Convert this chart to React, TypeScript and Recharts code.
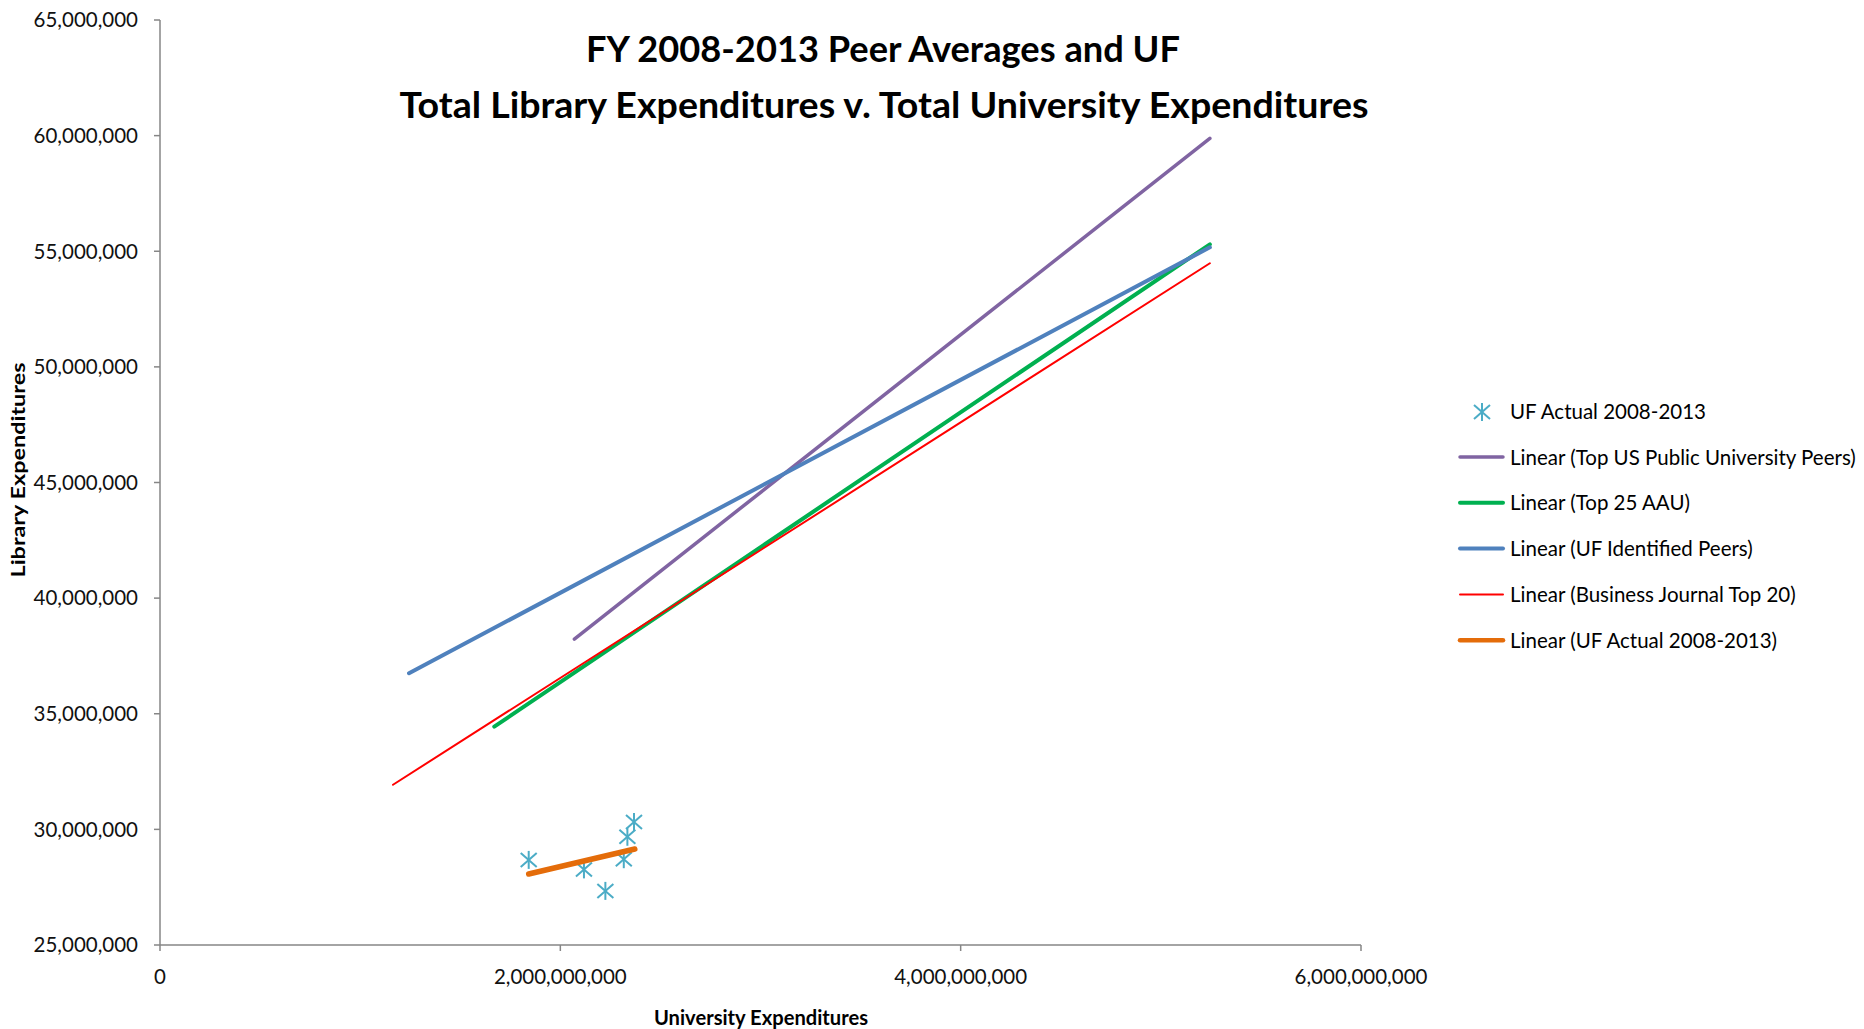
import { ScatterChart, Scatter, XAxis, YAxis } from "recharts";

// UF actual points, FY 2008-2013
const UF_UNIV = [1.842e9, 2.118e9, 2.225e9, 2.317e9, 2.335e9, 2.368e9];
const UF_LIB = [28.68e6, 28.27e6, 27.34e6, 28.71e6, 29.68e6, 30.32e6];

// trendline endpoints
const TOP_US_X = [2.07e9, 5.245e9];
const TOP_US_Y = [38.23e6, 59.88e6];
const AAU_X = [1.67e9, 5.245e9];
const AAU_Y = [34.44e6, 55.3e6];
const PEERS_X = [1.244e9, 5.245e9];
const PEERS_Y = [36.75e6, 55.17e6];
const BJ_X = [1.164e9, 5.245e9];
const BJ_Y = [31.93e6, 54.48e6];
const UF_TREND_X = [1.842e9, 2.372e9];
const UF_TREND_Y = [28.07e6, 29.15e6];

const X_TICKS = [0, 2e9, 4e9, 6e9];
const Y_TICKS = [25e6, 30e6, 35e6, 40e6, 45e6, 50e6, 55e6, 60e6, 65e6];

const toPts = (xs: number[], ys: number[]) => xs.map((x, i) => ({ x, y: ys[i] }));

const TRENDS = [
  { name: "Linear (Top US Public University Peers)", data: toPts(TOP_US_X, TOP_US_Y), color: "#8064A2", width: 3.5 },
  { name: "Linear (Top 25 AAU)", data: toPts(AAU_X, AAU_Y), color: "#00B050", width: 4 },
  { name: "Linear (UF Identified Peers)", data: toPts(PEERS_X, PEERS_Y), color: "#4F81BD", width: 4 },
  { name: "Linear (Business Journal Top 20)", data: toPts(BJ_X, BJ_Y), color: "#FF0000", width: 2 },
  { name: "Linear (UF Actual 2008-2013)", data: toPts(UF_TREND_X, UF_TREND_Y), color: "#E46C0A", width: 5.5 },
];

const STAR = "#4BACC6";
const FONT = "Lato, 'Open Sans', sans-serif";
const fmt = (v: number) => v.toLocaleString("en-US");

const Star = ({ cx, cy }: any) => (
  <g stroke={STAR} strokeWidth={2}>
    <line x1={cx} y1={cy - 9} x2={cx} y2={cy + 9} />
    <line x1={cx - 8} y1={cy - 7} x2={cx + 8} y2={cy + 7} />
    <line x1={cx - 8} y1={cy + 7} x2={cx + 8} y2={cy - 7} />
  </g>
);

const axisStroke = { stroke: "#868686", strokeWidth: 1.5 };
const tickStyle = { fill: "#111", fontSize: 20.5, fontFamily: FONT };

export default function App() {
  return (
    <div style={{ position: "absolute", left: 0, top: 0, width: 1864, height: 1029, background: "#fff" }}>
      <ScatterChart width={1864} height={1029} margin={{ top: 20, right: 503, bottom: 0, left: 0 }}>
        <XAxis
          type="number"
          dataKey="x"
          domain={[0, 6e9]}
          ticks={X_TICKS}
          tickFormatter={fmt}
          height={84}
          tickSize={6}
          tickMargin={18}
          axisLine={axisStroke}
          tickLine={axisStroke}
          tick={tickStyle}
          allowDataOverflow
        />
        <YAxis
          type="number"
          dataKey="y"
          domain={[25e6, 65e6]}
          ticks={Y_TICKS}
          tickFormatter={fmt}
          width={160}
          tickSize={6}
          tickMargin={16}
          axisLine={axisStroke}
          tickLine={axisStroke}
          tick={tickStyle}
          allowDataOverflow
        />
        <Scatter
          name="UF Actual 2008-2013"
          data={toPts(UF_UNIV, UF_LIB)}
          shape={<Star />}
          isAnimationActive={false}
        />
        {TRENDS.map((t) => (
          <Scatter
            key={t.name}
            name={t.name}
            data={t.data}
            line={{ stroke: t.color, strokeWidth: t.width, strokeLinecap: "round" }}
            lineJointType="linear"
            shape={() => <g />}
            isAnimationActive={false}
          />
        ))}
      </ScatterChart>

      <svg
        width={1864}
        height={1029}
        style={{ position: "absolute", left: 0, top: 0, pointerEvents: "none" }}
        fontFamily={FONT}
      >
        <text x={883} y={62} textAnchor="middle" fontSize={37} fontWeight="bold" textLength={594} lengthAdjust="spacingAndGlyphs">
          FY 2008-2013 Peer Averages and UF
        </text>
        <text x={884} y={118} textAnchor="middle" fontSize={37} fontWeight="bold" textLength={969} lengthAdjust="spacingAndGlyphs">
          Total Library Expenditures v. Total University Expenditures
        </text>
        <text x={761} y={1025} textAnchor="middle" fontSize={20} fontWeight="bold" textLength={214} lengthAdjust="spacingAndGlyphs">
          University Expenditures
        </text>
        <text
          transform="translate(25,470) rotate(-90)"
          textAnchor="middle"
          fontSize={18}
          fontWeight="bold"
          textLength={215}
          lengthAdjust="spacingAndGlyphs"
        >
          Library Expenditures
        </text>

        {/* legend */}
        <Star cx={1482} cy={412} />
        <text x={1510} y={419} fontSize={20.5}>UF Actual 2008-2013</text>
        {TRENDS.map((t, i) => {
          const cy = 457 + i * 45.8;
          return (
            <g key={t.name}>
              <line x1={1460} y1={cy} x2={1503} y2={cy} stroke={t.color} strokeWidth={Math.min(t.width, 4.5)} strokeLinecap="round" />
              <text x={1510} y={cy + 7.5} fontSize={20.5}>{t.name}</text>
            </g>
          );
        })}
      </svg>
    </div>
  );
}
